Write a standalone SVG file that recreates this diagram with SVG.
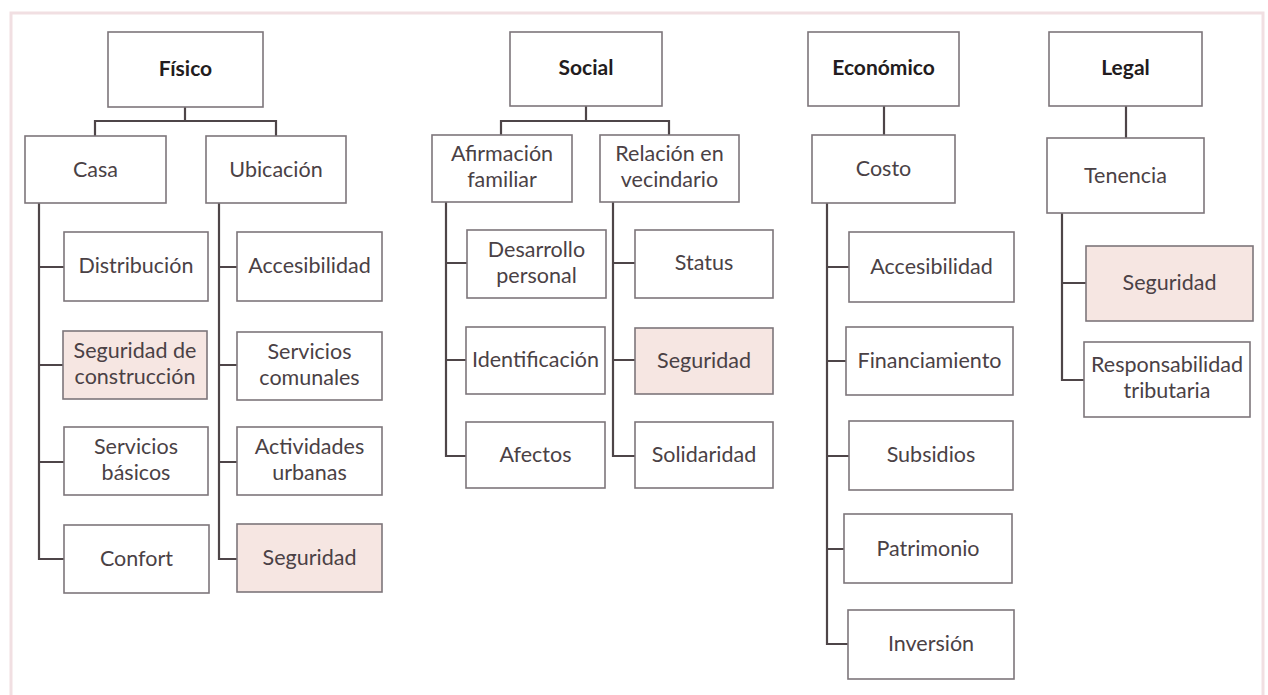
<svg xmlns="http://www.w3.org/2000/svg" width="1268" height="695" viewBox="0 0 1268 695">
<style>
.frame{fill:#ffffff;stroke:#f1dfe2;stroke-width:3}
.box{fill:#ffffff;stroke:#7d767b;stroke-width:1.6}
.hl{fill:#f6e6e2;stroke:#7d767b;stroke-width:1.6}
.conn{fill:none;stroke:#4e4548;stroke-width:2.2}
.t{font-family:Lato,"Open Sans",sans-serif;font-size:21.5px;fill:#4a4145;text-anchor:middle}
.h{font-family:Lato,"Open Sans",sans-serif;font-size:21px;font-weight:bold;fill:#231c20;text-anchor:middle}
</style>
<rect x="0" y="0" width="1268" height="695" fill="#ffffff"/>
<rect class="frame" x="11" y="13" width="1252" height="690"/>
<g id="connectors">
<path class="conn" d="M185,107V121M95,136V121H276V136"/>
<path class="conn" d="M39,203V559H64M39,267H64M39,365H64M39,462H64"/>
<path class="conn" d="M219,203V559H237M219,267H237M219,365H237M219,462H237"/>
<path class="conn" d="M586,106V121M501,135V121H669V135"/>
<path class="conn" d="M446,202V456H466M446,263H467M446,360H466"/>
<path class="conn" d="M613,202V456H635M613,263H635M613,360H635"/>
<path class="conn" d="M884,106V135"/>
<path class="conn" d="M827,203V644H848M827,267H849M827,361H846M827,456H849M827,549H844"/>
<path class="conn" d="M1126,106V138"/>
<path class="conn" d="M1062,213V380H1084M1062,283H1086"/>
</g>
<g id="fisico"><rect class="box" x="108" y="32" width="155" height="75"/><text class="h" x="185.5" y="76">Físico</text></g>
<g id="casa"><rect class="box" x="25" y="136" width="141" height="67"/><text class="t" x="95.5" y="177">Casa</text></g>
<g id="ubicacion"><rect class="box" x="206" y="136" width="140" height="67"/><text class="t" x="276" y="177">Ubicación</text></g>
<g id="distribucion"><rect class="box" x="64" y="232" width="144" height="69"/><text class="t" x="136" y="273">Distribución</text></g>
<g id="seguridad-construccion"><rect class="hl" x="63" y="331" width="144" height="68"/><text class="t" x="135" y="358"><tspan x="135">Seguridad de</tspan><tspan x="135" dy="26">construcción</tspan></text></g>
<g id="servicios-basicos"><rect class="box" x="64" y="427" width="144" height="68"/><text class="t" x="136" y="454"><tspan x="136">Servicios</tspan><tspan x="136" dy="26">básicos</tspan></text></g>
<g id="confort"><rect class="box" x="64" y="525" width="145" height="68"/><text class="t" x="136.5" y="566">Confort</text></g>
<g id="accesibilidad-1"><rect class="box" x="237" y="232" width="145" height="69"/><text class="t" x="309.5" y="273">Accesibilidad</text></g>
<g id="servicios-comunales"><rect class="box" x="237" y="332" width="145" height="68"/><text class="t" x="309.5" y="359"><tspan x="309.5">Servicios</tspan><tspan x="309.5" dy="26">comunales</tspan></text></g>
<g id="actividades-urbanas"><rect class="box" x="237" y="427" width="145" height="68"/><text class="t" x="309.5" y="454"><tspan x="309.5">Actividades</tspan><tspan x="309.5" dy="26">urbanas</tspan></text></g>
<g id="seguridad-1"><rect class="hl" x="237" y="524" width="145" height="68"/><text class="t" x="309.5" y="565">Seguridad</text></g>
<g id="social"><rect class="box" x="510" y="32" width="152" height="74"/><text class="h" x="586" y="75">Social</text></g>
<g id="afirmacion"><rect class="box" x="432" y="135" width="140" height="67"/><text class="t" x="502" y="161"><tspan x="502">Afirmación</tspan><tspan x="502" dy="26">familiar</tspan></text></g>
<g id="relacion"><rect class="box" x="600" y="135" width="139" height="67"/><text class="t" x="669.5" y="161"><tspan x="669.5">Relación en</tspan><tspan x="669.5" dy="26">vecindario</tspan></text></g>
<g id="desarrollo"><rect class="box" x="467" y="230" width="139" height="68"/><text class="t" x="536.5" y="257"><tspan x="536.5">Desarrollo</tspan><tspan x="536.5" dy="26">personal</tspan></text></g>
<g id="identificacion"><rect class="box" x="466" y="327" width="139" height="67"/><text class="t" x="535.5" y="367">Identificación</text></g>
<g id="afectos"><rect class="box" x="466" y="422" width="139" height="66"/><text class="t" x="535.5" y="462">Afectos</text></g>
<g id="status"><rect class="box" x="635" y="230" width="138" height="68"/><text class="t" x="704" y="270">Status</text></g>
<g id="seguridad-2"><rect class="hl" x="635" y="328" width="138" height="66"/><text class="t" x="704" y="368">Seguridad</text></g>
<g id="solidaridad"><rect class="box" x="635" y="422" width="138" height="66"/><text class="t" x="704" y="462">Solidaridad</text></g>
<g id="economico"><rect class="box" x="808" y="32" width="151" height="74"/><text class="h" x="883.5" y="75">Económico</text></g>
<g id="costo"><rect class="box" x="812" y="135" width="143" height="68"/><text class="t" x="883.5" y="176">Costo</text></g>
<g id="accesibilidad-2"><rect class="box" x="849" y="232" width="165" height="70"/><text class="t" x="931.5" y="274">Accesibilidad</text></g>
<g id="financiamiento"><rect class="box" x="846" y="327" width="167" height="68"/><text class="t" x="929.5" y="368">Financiamiento</text></g>
<g id="subsidios"><rect class="box" x="849" y="421" width="164" height="69"/><text class="t" x="931" y="462">Subsidios</text></g>
<g id="patrimonio"><rect class="box" x="844" y="514" width="168" height="69"/><text class="t" x="928" y="556">Patrimonio</text></g>
<g id="inversion"><rect class="box" x="848" y="610" width="166" height="69"/><text class="t" x="931" y="651">Inversión</text></g>
<g id="legal"><rect class="box" x="1049" y="32" width="153" height="74"/><text class="h" x="1125.5" y="75">Legal</text></g>
<g id="tenencia"><rect class="box" x="1047" y="138" width="157" height="75"/><text class="t" x="1125.5" y="183">Tenencia</text></g>
<g id="seguridad-3"><rect class="hl" x="1086" y="246" width="167" height="75"/><text class="t" x="1169.5" y="290">Seguridad</text></g>
<g id="responsabilidad"><rect class="box" x="1084" y="342" width="166" height="75"/><text class="t" x="1167" y="372"><tspan x="1167">Responsabilidad</tspan><tspan x="1167" dy="26">tributaria</tspan></text></g>
</svg>
